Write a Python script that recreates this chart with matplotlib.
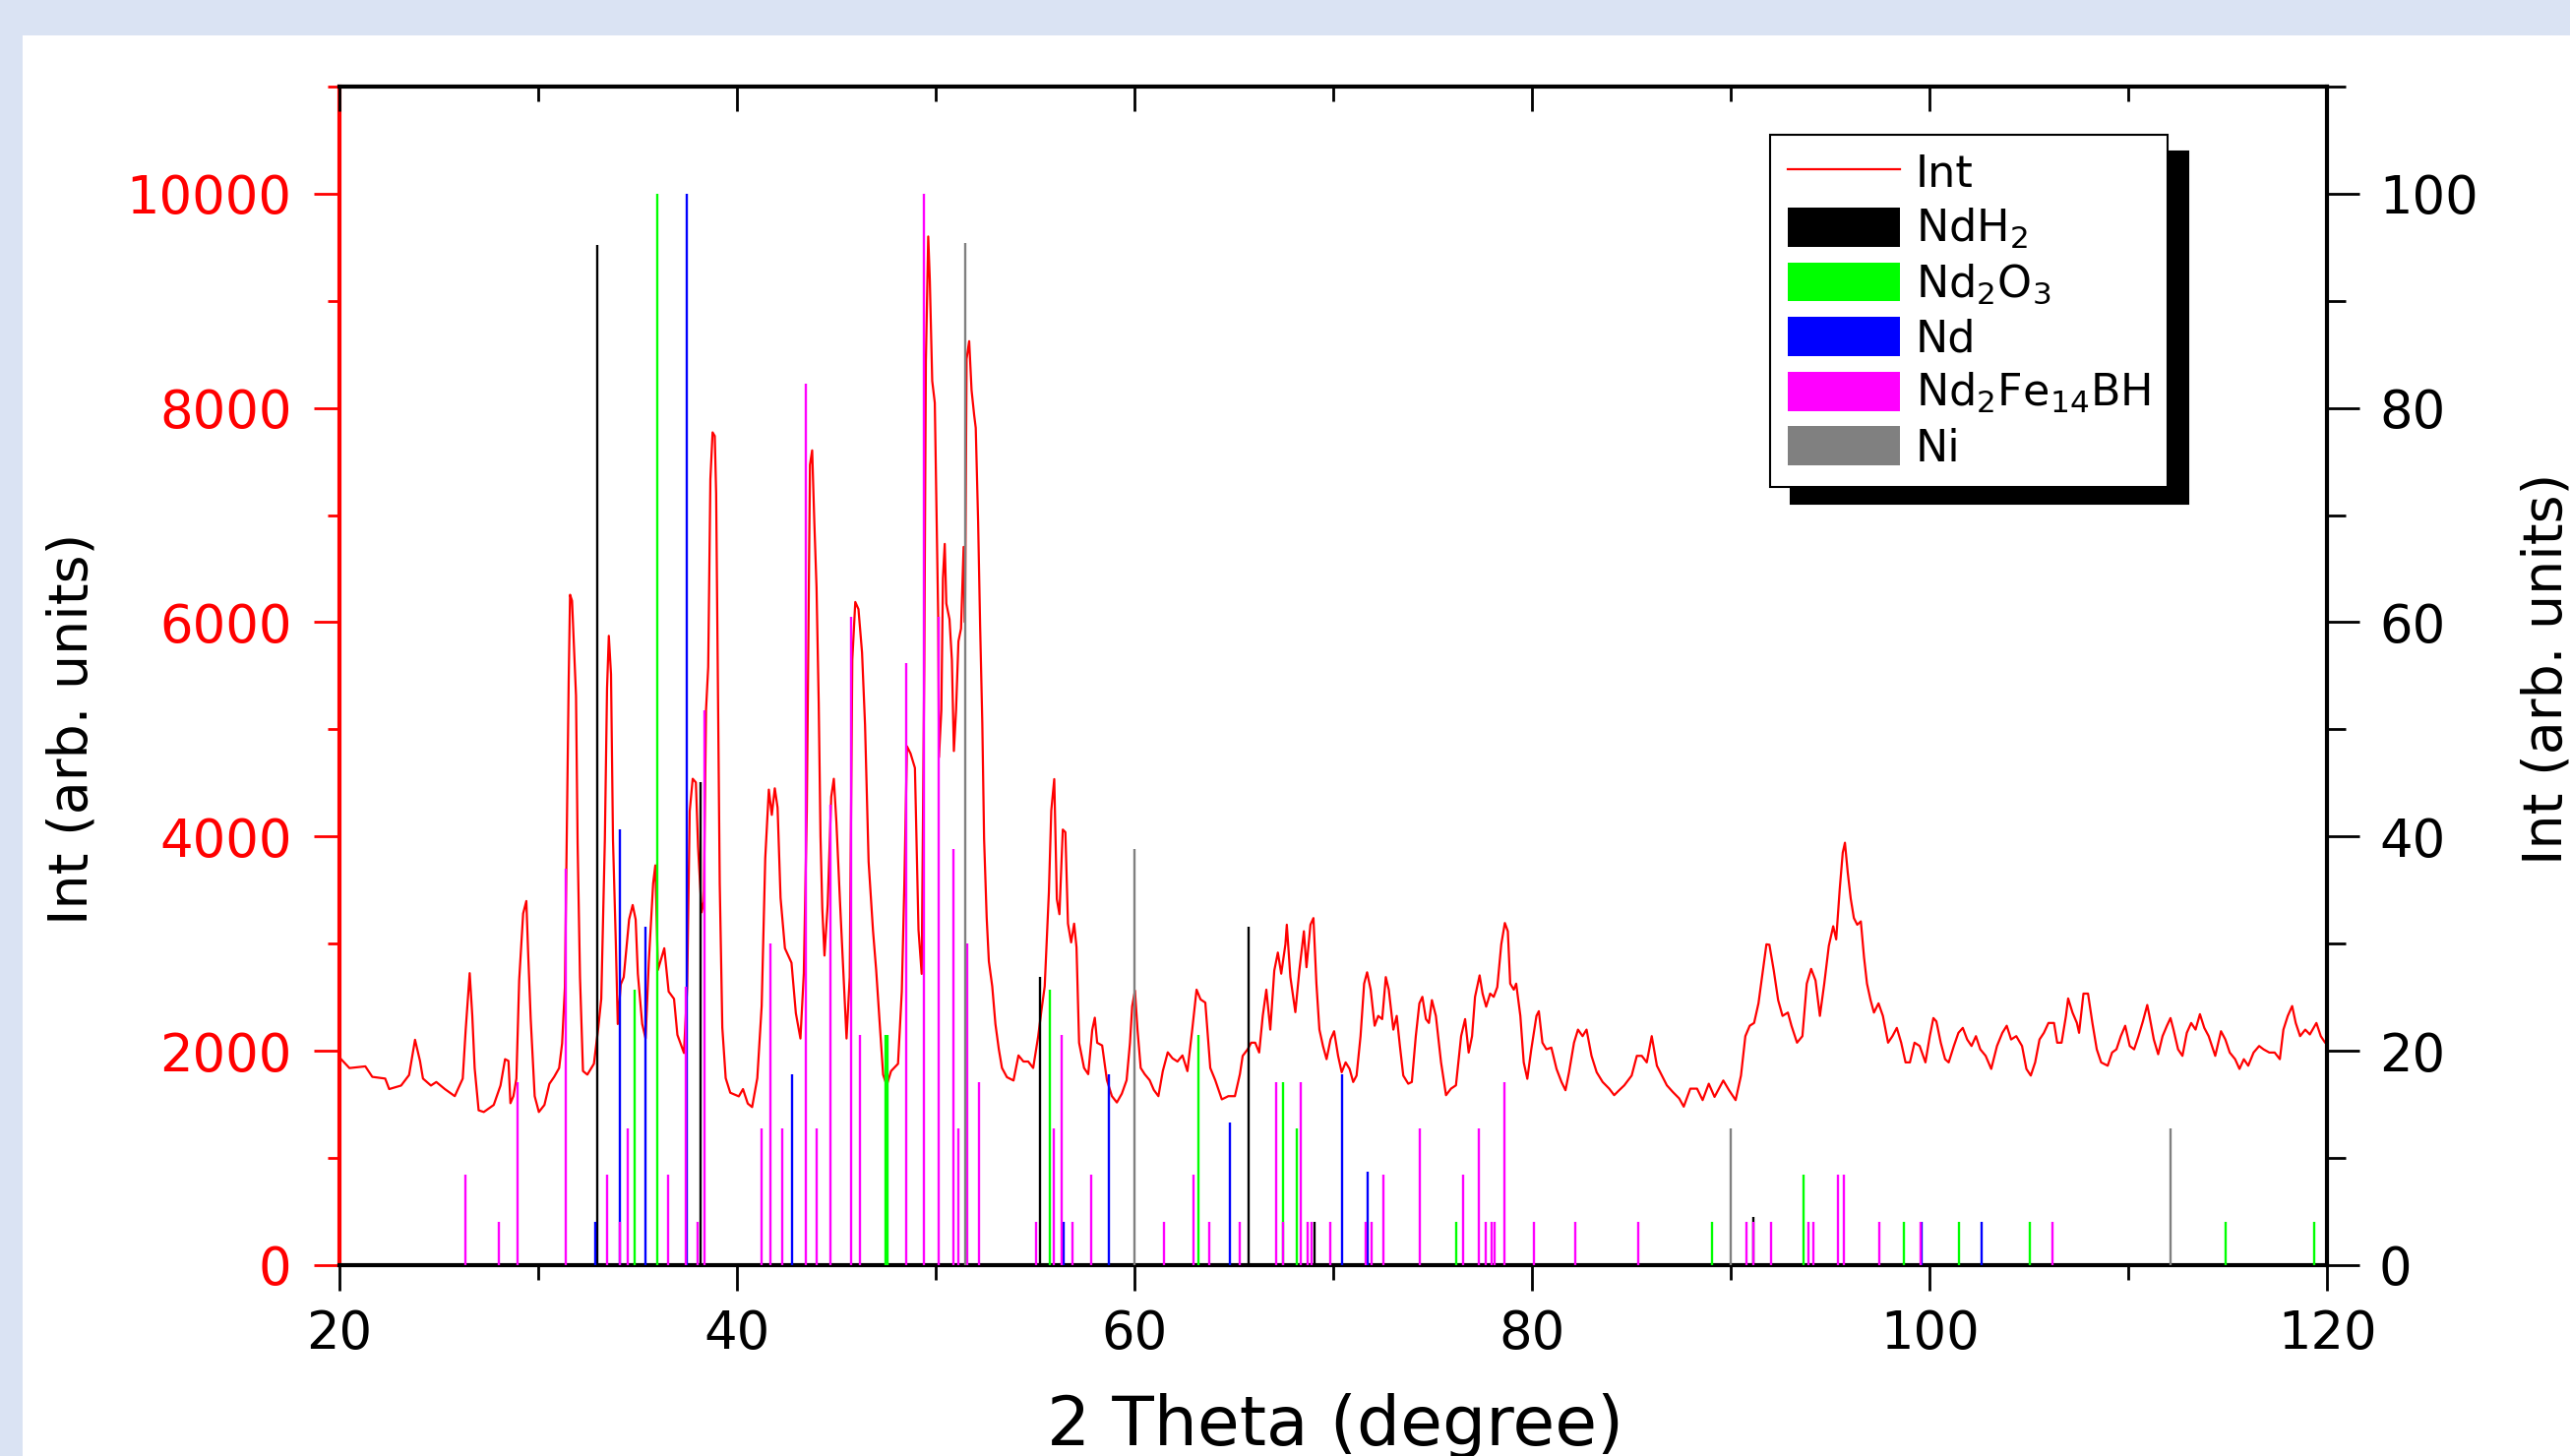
import matplotlib
matplotlib.use('Agg')
import matplotlib.pyplot as plt
from matplotlib.lines import Line2D
from matplotlib.patches import Patch, Rectangle
from matplotlib.ticker import MultipleLocator

plt.rcParams['font.family'] = ['DejaVu Sans']

# measured pattern (left axis)
two_theta = [
    20.0, 20.5, 21.3, 21.65, 22.3, 22.5, 23.1, 23.5, 23.8, 24.05, 24.2, 24.6, 24.87, 25.3, 25.8,
    26.2, 26.35, 26.55, 26.68, 26.8, 27.0, 27.26, 27.76, 28.1, 28.33, 28.5, 28.6, 28.75, 28.9,
    29.04, 29.24, 29.4, 29.49, 29.62, 29.82, 30.03, 30.31, 30.56, 30.8, 31.05, 31.2, 31.34,
    31.42, 31.53, 31.6, 31.7, 31.9, 31.98, 32.1, 32.25, 32.47, 32.8, 33.02, 33.17, 33.35,
    33.46, 33.55, 33.66, 33.76, 33.9, 34.0, 34.15, 34.3, 34.57, 34.75, 34.9, 35.01, 35.23,
    35.4, 35.56, 35.78, 35.89, 36.02, 36.34, 36.56, 36.83, 37.0, 37.33, 37.49, 37.62, 37.77,
    37.93, 38.04, 38.22, 38.33, 38.44, 38.55, 38.66, 38.77, 38.88, 38.95, 39.04, 39.13, 39.26,
    39.43, 39.66, 40.09, 40.3, 40.54, 40.76, 41.02, 41.24, 41.42, 41.6, 41.75, 41.9, 42.04,
    42.19, 42.41, 42.74, 42.96, 43.19, 43.36, 43.51, 43.67, 43.78, 43.89, 44.0, 44.11, 44.2,
    44.29, 44.4, 44.56, 44.74, 44.87, 45.0, 45.18, 45.36, 45.51, 45.67, 45.8, 45.95, 46.11,
    46.29, 46.44, 46.62, 46.84, 47.0, 47.18, 47.35, 47.53, 47.75, 48.1, 48.29, 48.42, 48.55,
    48.73, 48.95, 49.13, 49.29, 49.42, 49.5, 49.62, 49.7, 49.82, 49.95, 50.03, 50.12, 50.16,
    50.28, 50.36, 50.45, 50.53, 50.69, 50.81, 50.91, 51.02, 51.14, 51.27, 51.4, 51.47, 51.55,
    51.68, 51.8, 51.93, 52.01, 52.13, 52.23, 52.34, 52.43, 52.56, 52.67, 52.84, 53.0, 53.17,
    53.33, 53.58, 53.91, 54.16, 54.41, 54.65, 54.9, 55.15, 55.31, 55.48, 55.69, 55.81, 55.96,
    56.09, 56.22, 56.39, 56.52, 56.65, 56.81, 56.96, 57.08, 57.21, 57.46, 57.67, 57.87, 58.0,
    58.12, 58.37, 58.61, 58.86, 59.11, 59.36, 59.6, 59.77, 59.88, 60.02, 60.15, 60.31, 60.51,
    60.76, 60.97, 61.2, 61.42, 61.67, 61.91, 62.16, 62.41, 62.66, 62.9, 63.12, 63.32, 63.56,
    63.81, 64.06, 64.39, 64.72, 65.05, 65.3, 65.44, 65.69, 65.87, 66.07, 66.27, 66.45, 66.63,
    66.83, 67.03, 67.21, 67.38, 67.59, 67.66, 67.84, 68.09, 68.29, 68.52, 68.65, 68.85, 69.0,
    69.15, 69.3, 69.48, 69.66, 69.86, 70.04, 70.24, 70.42, 70.62, 70.82, 71.0, 71.17, 71.37,
    71.55, 71.7, 71.88, 72.08, 72.26, 72.46, 72.64, 72.79, 73.02, 73.19, 73.35, 73.52, 73.77,
    73.95, 74.15, 74.33, 74.48, 74.66, 74.81, 74.96, 75.16, 75.42, 75.67, 75.92, 76.17, 76.43,
    76.63, 76.81, 76.98, 77.13, 77.36, 77.51, 77.69, 77.89, 78.07, 78.25, 78.45, 78.63, 78.78,
    78.9, 79.08, 79.2, 79.41, 79.58, 79.76, 79.96, 80.22, 80.34, 80.52, 80.72, 80.97, 81.23,
    81.48, 81.68, 81.86, 82.11, 82.31, 82.54, 82.74, 82.99, 83.25, 83.55, 83.88, 84.13, 84.38,
    84.64, 85.01, 85.27, 85.52, 85.77, 86.02, 86.28, 86.53, 86.78, 87.08, 87.4, 87.63, 87.96,
    88.3, 88.58, 88.89, 89.18, 89.62, 89.91, 90.24, 90.51, 90.73, 90.95, 91.17, 91.39, 91.61,
    91.79, 91.94, 92.16, 92.38, 92.6, 92.87, 93.05, 93.33, 93.6, 93.82, 94.04, 94.26, 94.48,
    94.7, 94.93, 95.15, 95.3, 95.48, 95.63, 95.74, 95.88, 96.03, 96.19, 96.36, 96.54, 96.7,
    96.85, 97.03, 97.2, 97.43, 97.65, 97.91, 98.13, 98.35, 98.57, 98.79, 99.01, 99.24, 99.5,
    99.79, 100.01, 100.19, 100.34, 100.56, 100.78, 100.96, 101.22, 101.45, 101.67, 101.89,
    102.11, 102.33, 102.55, 102.82, 103.1, 103.39, 103.66, 103.88, 104.1, 104.36, 104.65,
    104.87, 105.09, 105.31, 105.53, 105.75, 105.98, 106.26, 106.42, 106.64, 106.86, 106.97,
    107.19, 107.41, 107.52, 107.74, 107.97, 108.19, 108.41, 108.63, 108.96, 109.18, 109.4,
    109.62, 109.84, 110.07, 110.29, 110.51, 110.73, 110.95, 111.06, 111.28, 111.5, 111.72,
    111.94, 112.12, 112.27, 112.5, 112.72, 112.94, 113.16, 113.38, 113.6, 113.82, 114.04,
    114.37, 114.66, 114.88, 115.1, 115.37, 115.59, 115.81, 116.03, 116.3, 116.58, 116.8,
    117.09, 117.36, 117.62, 117.8, 118.02, 118.24, 118.42, 118.64, 118.9, 119.13, 119.46,
    119.68, 119.9, 120.0]
intensity = [
    1938, 1839, 1855, 1757, 1741, 1643, 1676, 1774, 2103, 1906, 1741, 1676, 1709, 1643, 1577,
    1741, 2200, 2725, 2331, 1839, 1445, 1429, 1495, 1676, 1922, 1906, 1511, 1577, 1741,
    2659, 3282, 3398, 2921, 2298, 1577, 1429, 1495, 1692, 1757, 1839, 2069, 2593,
    3774, 5448, 6256, 6200, 5313, 3933, 2687, 1811, 1778, 1879, 2216, 2485, 3967,
    5381, 5873, 5515, 3967, 3024, 2250, 2620, 2687, 3226, 3361, 3226, 2720, 2250,
    2115, 2822, 3563, 3731, 2755, 2957, 2553, 2485, 2149, 1980, 2586, 4236, 4539,
    4505, 3903, 3293, 3394, 5179, 5583, 7334, 7772, 7738, 7200, 5335, 3563, 2216,
    1745, 1609, 1575, 1643, 1508, 1475, 1745, 2418, 3798, 4438, 4202, 4450, 4270,
    3428, 2957, 2822, 2351, 2115, 2722, 4236, 7469, 7604, 6930, 6324, 5246, 4000,
    3327, 2889, 3361, 4371, 4539, 4134, 3394, 2687, 2115, 2687, 5650, 6189, 6122,
    5717, 5044, 3765, 3125, 2755, 2250, 1778, 1677, 1811, 1879, 2553, 3563, 4842,
    4775, 4640, 3129, 2718, 5589, 8430, 9600, 9190, 8253, 8048, 7111, 6057, 4740,
    5179, 6410, 6731, 6174, 6028, 5647, 4798, 5179, 5822, 5941, 6703, 5998, 8457,
    8623, 8166, 7934, 7814, 6935, 5969, 5060, 3978, 3245, 2836, 2602, 2250, 2016,
    1840, 1754, 1723, 1957, 1900, 1900, 1840, 2133, 2369, 2602, 3480, 4242, 4536,
    3417, 3275, 4065, 4040, 3187, 3012, 3187, 2966, 2075, 1840, 1782, 2195, 2309,
    2075, 2050, 1726, 1577, 1518, 1600, 1726, 2075, 2415, 2562, 2195, 1840, 1782,
    1726, 1635, 1577, 1810, 1986, 1930, 1900, 1957, 1810, 2195, 2571, 2480, 2450,
    1840, 1726, 1547, 1577, 1577, 1782, 1953, 2014, 2076, 2076, 1984, 2326, 2571,
    2198, 2749, 2917, 2720, 2994, 3177, 2688, 2361, 2749, 3116, 2780, 3177, 3239,
    2627, 2198, 2045, 1922, 2106, 2183, 1953, 1800, 1892, 1831, 1709, 1769, 2137,
    2627, 2733, 2571, 2234, 2326, 2296, 2688, 2571, 2198, 2326, 2045, 1769, 1693,
    1709, 2137, 2443, 2504, 2296, 2260, 2473, 2326, 1892, 1586, 1647, 1678, 2137,
    2296, 1984, 2137, 2504, 2704, 2534, 2412, 2534, 2504, 2595, 2994, 3193, 3116,
    2627, 2571, 2627, 2326, 1892, 1739, 2014, 2326, 2370, 2076, 2014, 2030, 1831,
    1709, 1632, 1800, 2076, 2198, 2137, 2198, 1953, 1800, 1709, 1647, 1586, 1632,
    1678, 1769, 1953, 1953, 1892, 2137, 1861, 1769, 1678, 1616, 1556, 1479, 1647,
    1647, 1540, 1693, 1570, 1723, 1632, 1540, 1769, 2137, 2234, 2260, 2443, 2749,
    2994, 2990, 2749, 2473, 2326, 2357, 2234, 2076, 2137, 2627, 2765, 2657, 2326,
    2627, 2980, 3163, 3040, 3514, 3850, 3942, 3667, 3422, 3239, 3177, 3208, 2874,
    2627, 2473, 2357, 2443, 2326, 2076, 2137, 2214, 2076, 1892, 1892, 2076, 2045,
    1892, 2137, 2306, 2275, 2076, 1922, 1892, 2045, 2168, 2214, 2106,
    2045, 2137, 2014, 1953, 1831, 2045, 2168, 2234, 2106, 2137, 2045,
    1831, 1769, 1892, 2106, 2168, 2260, 2260, 2076, 2076, 2326, 2489,
    2357, 2260, 2168, 2534, 2534, 2260, 2014, 1892, 1861, 1984, 2014,
    2137, 2234, 2045, 2014, 2137, 2275, 2428, 2326, 2106, 1968, 2137,
    2234, 2306, 2198, 2014, 1953, 2168, 2260, 2198, 2342, 2214, 2137,
    1953, 2183, 2106, 1984, 1922, 1831, 1922, 1861, 1984, 2045, 2014,
    1984, 1984, 1922, 2198, 2326, 2418, 2260, 2137, 2198, 2153, 2260,
    2137, 2076, 2076]

# reference stick patterns (right axis)
ndh2_pos = [32.98, 38.15, 55.25, 65.73, 69.05, 91.12]
ndh2_int = [95.2, 45.1, 26.9, 31.6, 4.0, 4.5]

nd2o3_pos = [34.83, 35.98, 47.46, 47.56, 55.72, 63.21, 67.45, 68.15, 76.2, 89.05, 93.64,
             98.73, 101.46, 105.02, 114.9, 119.37]
nd2o3_int = [25.7, 100, 21.5, 21.5, 25.7, 21.5, 17.1, 12.8, 4.0, 4.0, 8.4,
             4.0, 4.0, 4.0, 4.0, 4.0]

nd_pos = [32.87, 34.13, 35.39, 37.49, 42.76, 56.43, 58.7, 64.81, 70.45, 71.71, 99.6, 102.61]
nd_int = [4.0, 40.7, 31.6, 100, 17.8, 4.0, 17.8, 13.3, 17.8, 8.7, 4.0, 4.0]

nfb_pos = [26.34, 28.03, 28.97, 31.36, 33.46, 34.1, 34.5, 36.55, 37.4, 38.03, 38.38, 41.25,
           41.7, 42.26, 43.44, 44.02, 44.69, 45.73, 46.19, 48.5, 49.41, 50.12, 50.88,
           51.13, 51.59, 52.16, 55.04, 55.96, 56.32, 56.9, 57.81, 61.48, 62.98, 63.78, 65.3,
           67.1, 67.45, 68.37, 68.71, 68.9, 69.85, 71.62, 71.92, 72.51, 74.35, 76.53, 77.34,
           77.68, 77.98, 78.1, 78.61, 80.11, 82.15, 85.36, 90.77, 91.12, 92.03, 93.9, 94.13,
           95.37, 95.67, 97.45, 99.55, 106.17]
nfb_int = [8.4, 4.0, 17.1, 37.0, 8.4, 4.0, 12.8, 8.4, 26.0, 4.0, 51.8, 12.8,
           30.0, 12.8, 82.3, 12.8, 43.0, 60.5, 21.5, 56.2, 100, 60.5, 38.8,
           12.8, 30.0, 17.1, 4.0, 12.8, 21.5, 4.0, 8.4, 4.0, 8.4, 4.0, 4.0,
           17.1, 4.0, 17.1, 4.0, 4.0, 4.0, 4.0, 4.0, 8.4, 12.8, 8.4, 12.8,
           4.0, 4.0, 4.0, 17.1, 4.0, 4.0, 4.0, 4.0, 4.0, 4.0, 4.0, 4.0,
           8.4, 8.4, 4.0, 4.0, 4.0]

ni_pos = [51.5, 60.0, 89.97, 112.13]
ni_int = [95.4, 38.8, 12.8, 12.8]

phases = [
    ('NdH$_2$', 'black', ndh2_pos, ndh2_int),
    ('Nd$_2$O$_3$', '#00ff00', nd2o3_pos, nd2o3_int),
    ('Nd', '#0000ff', nd_pos, nd_int),
    ('Nd$_2$Fe$_{14}$BH', '#ff00ff', nfb_pos, nfb_int),
    ('Ni', '#808080', ni_pos, ni_int),
]

fig = plt.figure(figsize=(26.12, 14.8), dpi=100, facecolor='#dae3f3')
fig.add_artist(Rectangle((0.0088, 0), 1.0, 0.9757, transform=fig.transFigure,
                         facecolor='white', edgecolor='none', zorder=-1))

ax = fig.add_axes([0.1321, 0.1311, 0.7734, 0.8095])
ax2 = ax.twinx()

ax.plot(two_theta, intensity, color='red', lw=1.6)
for label, color, pos, hgt in phases:
    ax2.vlines(pos, 0, hgt, colors=color, lw=1.7)

ax.set_xlim(20, 120)
ax.set_ylim(0, 11000)
ax2.set_ylim(0, 110)

ax.xaxis.set_major_locator(MultipleLocator(20))
ax.xaxis.set_minor_locator(MultipleLocator(10))
ax.yaxis.set_major_locator(MultipleLocator(2000))
ax.yaxis.set_minor_locator(MultipleLocator(1000))
ax2.yaxis.set_major_locator(MultipleLocator(20))
ax2.yaxis.set_minor_locator(MultipleLocator(10))

# left axis in red
ax.tick_params(axis='y', which='both', colors='red', direction='out', width=2,
               labelsize=38, pad=16)
ax.tick_params(axis='y', which='major', length=19)
ax.tick_params(axis='y', which='minor', length=9)
ax.tick_params(axis='x', which='both', direction='out', bottom=True, top=False,
               width=2, labelsize=38, pad=13)
ax.tick_params(axis='x', which='major', length=19)
ax.tick_params(axis='x', which='minor', length=11)

ax2.tick_params(axis='y', which='both', direction='out', width=2, labelsize=38, pad=14)
ax2.tick_params(axis='y', which='major', length=24)
ax2.tick_params(axis='y', which='minor', length=14)

# top ticks pointing inwards
ax2.xaxis.set_visible(True)
ax2.tick_params(axis='x', which='both', bottom=False, top=True, labelbottom=False,
                labeltop=False, direction='in', width=2)
ax2.tick_params(axis='x', which='major', length=18)
ax2.tick_params(axis='x', which='minor', length=11)

ax.spines['left'].set_color('red')
ax.spines['right'].set_visible(False)
for s in ['left', 'bottom', 'top']:
    ax.spines[s].set_linewidth(3)
for s in ['left', 'bottom', 'top']:
    ax2.spines[s].set_visible(False)
ax2.spines['right'].set_linewidth(3)

fig.text(0.028, 0.4993, 'Int (arb. units)', rotation=90, ha='center', va='center', fontsize=40)
fig.text(0.991, 0.5405, 'Int (arb. units)', rotation=90, ha='center', va='center', fontsize=40)
fig.text(0.5195, 0.0432, '2 Theta (degree)', ha='center', va='top', fontsize=50)

handles = [Line2D([], [], color='red', lw=1.6, label='Int')]
handles += [Patch(facecolor=c, edgecolor='none', label=l) for l, c, p, h in phases]
leg = ax2.legend(handles=handles, loc='upper left', bbox_to_anchor=(0.7198, 0.959),
                 borderaxespad=0, fontsize=32, handlelength=2.57, handleheight=1.0,
                 handletextpad=0.35, labelspacing=0.25, borderpad=0.4, fancybox=False,
                 edgecolor='black', framealpha=1,
                 shadow={'ox': 15, 'oy': -12, 'shade': 1.0, 'alpha': 1.0})
leg.get_frame().set_linewidth(1.5)

fig.savefig('out.png', dpi=100, facecolor=fig.get_facecolor())
